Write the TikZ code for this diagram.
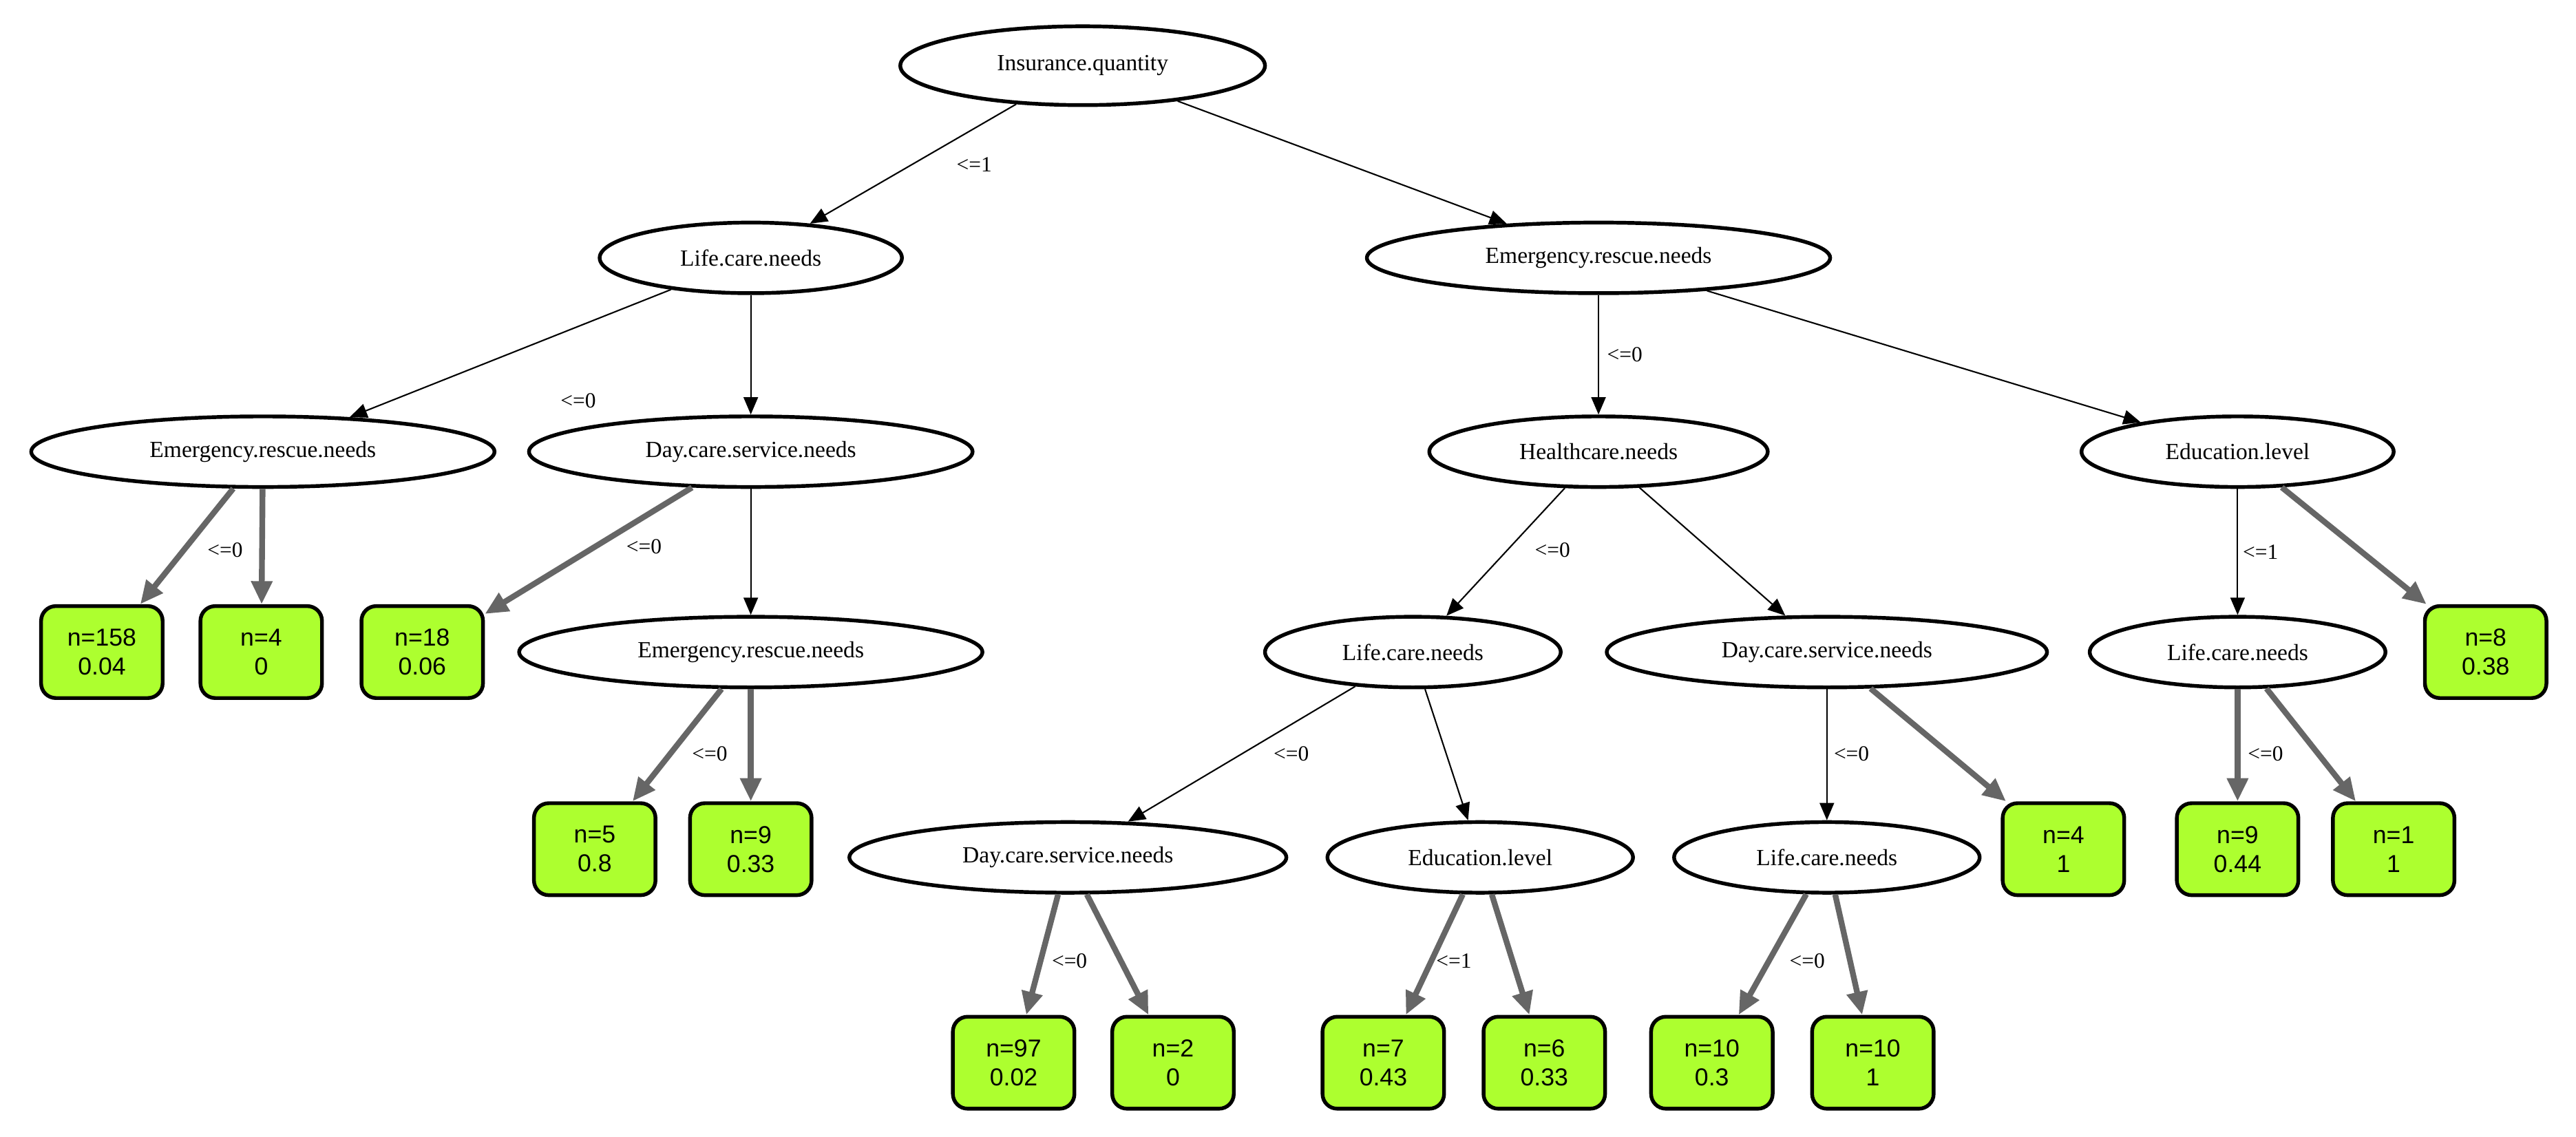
\documentclass[tikz,border=0pt]{standalone}
\usepackage{fontspec}
\setmainfont{Liberation Serif}
\newfontfamily\leaffont{Liberation Sans}
\usetikzlibrary{shapes.geometric,arrows.meta}
\definecolor{leafgreen}{HTML}{ADFF2F}
\definecolor{edgegray}{HTML}{666666}
\tikzset{
 split/.style={ellipse,draw,line width=1.3pt,inner sep=0pt,minimum height=0.86cm,minimum width=#1*0.02cm,font=\fontsize{8}{9}\selectfont},
 leaf/.style={rectangle,rounded corners=0.18cm,draw,line width=1.3pt,fill=leafgreen,minimum width=1.48cm,minimum height=1.12cm,inner sep=1pt,align=center,font=\leaffont\fontsize{8.5}{10}\selectfont},
 thin/.style={draw,line width=0.5pt,-{Triangle[length=6pt,width=5pt]}},
 thick/.style={draw=edgegray,line width=2pt,-{Triangle[length=8pt,width=7pt]}},
 lab/.style={font=\fontsize{7.5}{9}\selectfont,inner sep=1pt}
}
\begin{document}
\begin{tikzpicture}[x=0.02cm,y=-0.02cm]
\useasboundingbox (0,0) rectangle (1568,692);
\node[split=222,minimum height=0.96cm] (r) at (659,40) {Insurance.quantity};
\node[split=184] (lc1) at (457,157) {Life.care.needs};
\node[split=282] (er1) at (973,157) {Emergency.rescue.needs};
\node[split=282] (er2) at (160,275) {Emergency.rescue.needs};
\node[split=270] (dc2) at (457,275) {Day.care.service.needs};
\node[split=206] (hc) at (973,275) {Healthcare.needs};
\node[split=190] (ed2) at (1362,275) {Education.level};
\node[leaf] (l158) at (62,397) {n=158\\0.04};
\node[leaf] (l4a) at (159,397) {n=4\\0};
\node[leaf] (l18) at (257,397) {n=18\\0.06};
\node[split=282] (er3) at (457,397) {Emergency.rescue.needs};
\node[split=180] (lc3) at (860,397) {Life.care.needs};
\node[split=268] (dc3) at (1112,397) {Day.care.service.needs};
\node[split=180] (lc3b) at (1362,397) {Life.care.needs};
\node[leaf] (l8) at (1513,397) {n=8\\0.38};
\node[leaf] (l5) at (362,517) {n=5\\0.8};
\node[leaf] (l9) at (457,517) {n=9\\0.33};
\node[split=266] (dc4) at (650,522) {Day.care.service.needs};
\node[split=186] (ed4) at (901,522) {Education.level};
\node[split=186] (lc4) at (1112,522) {Life.care.needs};
\node[leaf] (l4b) at (1256,517) {n=4\\1};
\node[leaf] (l9b) at (1362,517) {n=9\\0.44};
\node[leaf] (l1) at (1457,517) {n=1\\1};
\node[leaf] (l97) at (617,647) {n=97\\0.02};
\node[leaf] (l2) at (714,647) {n=2\\0};
\node[leaf] (l7) at (842,647) {n=7\\0.43};
\node[leaf] (l6) at (940,647) {n=6\\0.33};
\node[leaf] (l10a) at (1042,647) {n=10\\0.3};
\node[leaf] (l10b) at (1140,647) {n=10\\1};
% thin edges
\path[thin] (r) -- (lc1);
\path[thin] (r) -- (er1);
\path[thin] (lc1) -- (er2);
\path[thin] (lc1) -- (dc2);
\path[thin] (er1) -- (hc);
\path[thin] (er1) -- (ed2);
\path[thin] (dc2) -- (er3);
\path[thin] (hc) -- (lc3);
\path[thin] (hc) -- (dc3);
\path[thin] (ed2) -- (lc3b);
\path[thin] (lc3) -- (dc4);
\path[thin] (lc3) -- (ed4);
\path[thin] (dc3) -- (lc4);
% thick edges
\path[thick] (er2) -- (l158);
\path[thick] (er2) -- (l4a);
\path[thick] (dc2) -- (l18);
\path[thick] (ed2) -- (l8);
\path[thick] (er3) -- (l5);
\path[thick] (er3) -- (l9);
\path[thick] (dc3) -- (l4b);
\path[thick] (lc3b) -- (l9b);
\path[thick] (lc3b) -- (l1);
\path[thick] (dc4) -- (l97);
\path[thick] (dc4) -- (l2);
\path[thick] (ed4) -- (l7);
\path[thick] (ed4) -- (l6);
\path[thick] (lc4) -- (l10a);
\path[thick] (lc4) -- (l10b);
% labels
\node[lab] (e1) at (593,100) {<=1};
\node[lab] (e2) at (352,244) {<=0};
\node[lab] (e3) at (137,335) {<=0};
\node[lab] (e4) at (392,333) {<=0};
\node[lab] (e5) at (989,216) {<=0};
\node[lab] (e6) at (945,335) {<=0};
\node[lab] (e7) at (1376,336) {<=1};
\node[lab] (e8) at (432,459) {<=0};
\node[lab] (e9) at (786,459) {<=0};
\node[lab] (e10) at (1127,459) {<=0};
\node[lab] (e11) at (1379,459) {<=0};
\node[lab] (e12) at (651,585) {<=0};
\node[lab] (e13) at (885,585) {<=1};
\node[lab] (e14) at (1100,585) {<=0};
\end{tikzpicture}
\end{document}
